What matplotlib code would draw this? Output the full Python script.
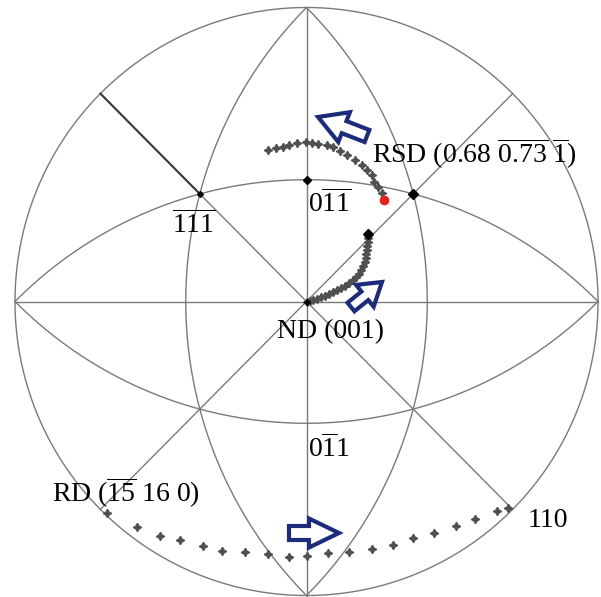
import numpy as np
import matplotlib
matplotlib.use("Agg")
import matplotlib.pyplot as plt
from matplotlib.patches import FancyArrow

plt.rcParams['font.family'] = ['Liberation Serif', 'DejaVu Serif']
plt.rcParams['mathtext.fontset'] = 'custom'
plt.rcParams['mathtext.rm'] = 'Liberation Serif'
plt.rcParams['mathtext.it'] = 'Liberation Serif:italic'
plt.rcParams['mathtext.bf'] = 'Liberation Serif:bold'

# ---- data (image-pixel space) ----
rd_trace_x = [107, 137, 160, 180, 203, 222, 245, 268, 289, 307, 328, 349, 372, 393, 413, 434, 456, 475, 497, 508]
rd_trace_y = [513, 527, 536, 540, 546, 551, 552, 554, 557, 556, 553, 552, 549, 545, 538, 533, 526, 519, 511, 508]

rsd_trace_x = [268, 276, 283, 289, 297, 306, 312, 318, 327, 333, 340, 347, 355, 362, 367, 372, 374, 378, 382]
rsd_trace_y = [150, 148, 147, 145, 143, 142, 143, 144, 145, 147, 151, 155, 160, 165, 170, 175, 182, 187, 193]
rsd_end = (384, 200)

nd_trace_x = [368, 368, 367, 367, 366, 366, 365, 363, 361, 359, 356, 353, 349, 345, 341, 337, 333, 329, 325, 321, 317, 313, 310, 307]
nd_trace_y = [238, 242, 246, 250, 254, 258, 262, 266, 270, 274, 277, 280, 283, 286, 288, 290, 292, 294, 296, 297, 299, 300, 301, 302]
nd_start = (368, 234)

# poles in unit projection coordinates
t = np.tan(np.radians(22.5))
pole_011 = (0.0, t)
pole_111a = (0.366, 0.366)
pole_111b = (-0.366, 0.366)

labels = [
    (r'RSD (0.68 $\overline{\mathrm{0.73}}\ \overline{\mathrm{1}}$)', 372, 163),
    (r'$\mathrm{0}\overline{\mathrm{1}}\overline{\mathrm{1}}$', 308, 212),
    (r'$\overline{\mathrm{1}}\overline{\mathrm{1}}\overline{\mathrm{1}}$', 172, 233),
    ('ND (001)', 277, 338),
    (r'$\mathrm{0}\overline{\mathrm{1}}\mathrm{1}$', 308, 457),
    (r'RD ($\overline{\mathrm{15}}$ 16 0)', 52, 502),
    ('110', 528, 527),
]

# ---- geometry ----
cx, cy, Rx, Ry = 306.5, 301.5, 291.5, 294.0

def to_px(u, v):
    return cx + Rx * np.asarray(u), cy - Ry * np.asarray(v)

fig = plt.figure(figsize=(6.01, 5.97), dpi=100)
ax = fig.add_axes([0, 0, 1, 1])
ax.set_xlim(0, 601)
ax.set_ylim(597, 0)
ax.axis('off')

gc = '#7a7a7a'
lw = 1.0

# primitive
a = np.linspace(0, 2 * np.pi, 721)
ax.plot(*to_px(np.cos(a), np.sin(a)), color=gc, lw=lw)

# diameters
for ang in [0, 90, 45, 135]:
    r = np.radians(ang)
    ax.plot(*to_px([-np.cos(r), np.cos(r)], [-np.sin(r), np.sin(r)]), color=gc, lw=lw)

# dark segment of the upper-left diagonal
ax.plot(*to_px([-0.7071, pole_111b[0]], [0.7071, pole_111b[1]]), color='#3a3a3a', lw=1.5)

# arcs of {011} and {101} great circles
s2 = np.sqrt(2)
for (ccx, ccy, a0, a1) in [(0, -1, 45, 135), (0, 1, -45, -135), (1, 0, 135, 225), (-1, 0, -45, 45)]:
    aa = np.radians(np.linspace(a0, a1, 300))
    ax.plot(*to_px(ccx + s2 * np.cos(aa), ccy + s2 * np.sin(aa)), color=gc, lw=lw)

# poles
for p, ms in [(pole_011, 4.5), (pole_111a, 5), (pole_111b, 3), ((0, 0), 3)]:
    ax.plot(*to_px(p[0], p[1]), marker='D', ms=ms, color='black', ls='none', zorder=5)

# traces
star = (4, 1, 0)
tc = '#505050'
ax.plot(rd_trace_x, rd_trace_y, ls='none', marker=star, ms=6, color=tc, zorder=4)
ax.plot(rsd_trace_x, rsd_trace_y, ls='none', marker=star, ms=6, color=tc, zorder=4)
ax.plot(nd_trace_x, nd_trace_y, ls='none', marker=star, ms=6, color=tc, zorder=4)
ax.plot(*rsd_end, marker='o', ms=6, color='#e8231c', zorder=6)
ax.plot(*nd_start, marker='D', ms=5, color='black', zorder=6)

# arrows
navy = '#1c2c7a'
def arrow(x0, y0, x1, y1, w, hw, hl):
    ax.add_patch(FancyArrow(x0, y0, x1 - x0, y1 - y0, width=w, head_width=hw, head_length=hl,
                            length_includes_head=True, facecolor='white', edgecolor=navy,
                            lw=3.0, joinstyle='miter', zorder=7))

arrow(367, 136, 318, 117, 13, 32, 28)
arrow(351, 307, 382, 282, 11, 28, 22)
arrow(289, 533, 339, 533, 14, 29, 30)

for txt, x, y in labels:
    ax.text(x, y, txt, fontsize=20, ha='left', va='baseline', color='black', zorder=8)

fig.savefig('out.png', dpi=100, facecolor='white')
